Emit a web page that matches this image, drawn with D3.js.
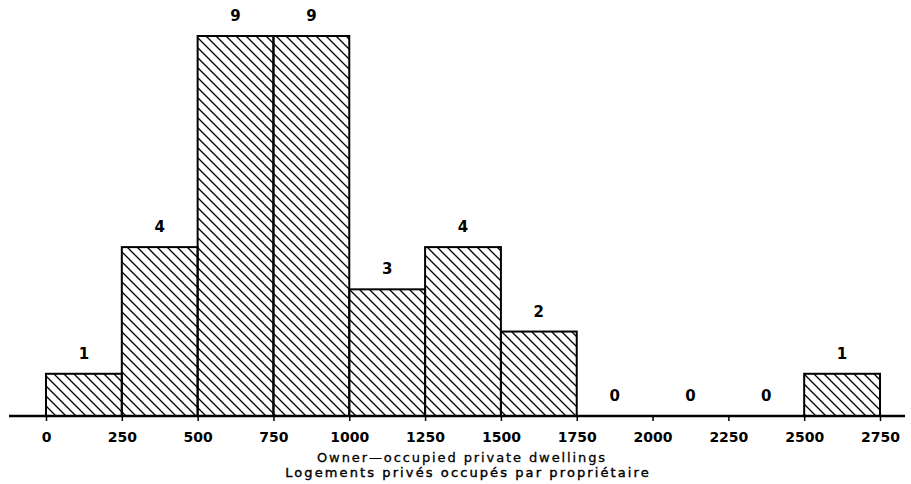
<!DOCTYPE html>
<html>
<head>
<meta charset="utf-8">
<script src="https://cdn.jsdelivr.net/npm/d3@7"></script>
<style>
body{margin:0;background:#fff;}
text{font-family:"DejaVu Sans",sans-serif;fill:#000;}
</style>
</head>
<body>
<div id="histo"></div>
<script>
// bornes des classes et effectifs
var bornes=[0,250,500,750,1000,1250,1500,1750,2000,2250,2500,2750]
var effectifs=[1,4,9,9,3,4,2,0,0,0,1]
var titre1="Owner\u2014occupied private dwellings"
var titre2="Logements privés occupés par propriétaire"

histo()

function histo(){
	var ancho=911, alto=484
	var svg=d3.select("#histo").append("svg")
		.attr("width",ancho).attr("height",alto)

	// motif hachuré
	var defs=svg.append("defs")
	defs.append("pattern")
		.attr("id","hachure")
		.attr("patternUnits","userSpaceOnUse")
		.attr("width",10).attr("height",10)
		.append("path")
		.attr("d","M-1,-1L11,11M-1,9L1,11M9,-1L11,1")
		.style("stroke","#000").style("stroke-width",1.3)

	var escalaX=d3.scaleLinear().domain([0,2750]).range([46,880])
	var escalaY=d3.scaleLinear().domain([0,9]).range([416,36])

	var data=effectifs.map((v,i)=>({x0:bornes[i],x1:bornes[i+1],n:v}))

	// barres
	svg.selectAll(".barre")
		.data(data.filter(d=>d.n>0))
		.enter().append("rect")
		.attr("class","barre")
		.attr("x",d=>escalaX(d.x0))
		.attr("y",d=>escalaY(d.n))
		.attr("width",d=>escalaX(d.x1)-escalaX(d.x0))
		.attr("height",d=>escalaY(0)-escalaY(d.n))
		.style("fill","url(#hachure)")
		.style("stroke","#000").style("stroke-width",2)

	// étiquettes
	svg.selectAll(".etiq")
		.data(data)
		.enter().append("text")
		.attr("x",d=>escalaX((d.x0+d.x1)/2))
		.attr("y",d=>escalaY(d.n)-15)
		.attr("text-anchor","middle")
		.style("font-size","15px").style("font-weight","bold")
		.text(d=>d.n)

	// axe
	var eje=svg.append("g")
		.attr("transform","translate(0,416)")
		.call(d3.axisBottom(escalaX).tickValues(bornes).tickSize(5).tickPadding(11).tickFormat(d3.format("d")))
	eje.select(".domain").attr("d","M9,0H905").style("stroke-width",2.5)
	eje.selectAll(".tick line").style("stroke-width",1.5)
	eje.selectAll(".tick text").style("font-size","14px").style("font-weight","bold").style("font-family","DejaVu Sans")

	svg.append("text").attr("x",462).attr("y",462).attr("text-anchor","middle")
		.style("font-size","13px").style("letter-spacing","1.9px")
		.style("stroke","#000").style("stroke-width",0.3).text(titre1)
	svg.append("text").attr("x",468).attr("y",477).attr("text-anchor","middle")
		.style("font-size","13px").style("letter-spacing","2.1px")
		.style("stroke","#000").style("stroke-width",0.4).text(titre2)
}
</script>
</body>
</html>
